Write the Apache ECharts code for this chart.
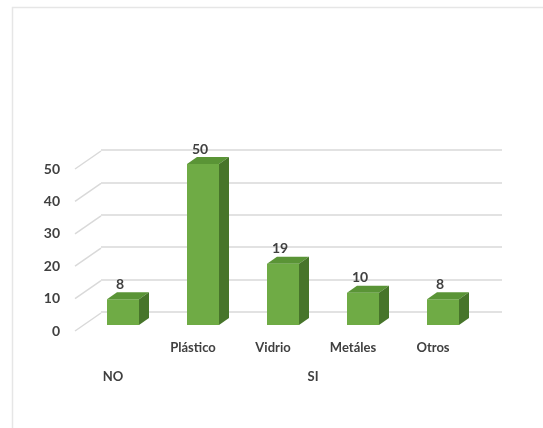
<!DOCTYPE html>
<html>
<head>
<meta charset="utf-8">
<script src="https://cdn.jsdelivr.net/npm/echarts@6/dist/echarts.min.js"></script>
<style>
html, body { margin: 0; padding: 0; background: #ffffff; }
#chart { width: 543px; height: 428px; }
</style>
</head>
<body>
<div id="chart"></div>
<script>
// Inner category labels (the single "NO" bar has no inner label)
const categories = ['', 'Plástico', 'Vidrio', 'Metáles', 'Otros'];
// Outer group labels and how many bars each group covers
const groupNames = ['NO', 'SI'];
const groupSpans = [1, 4];
// Bar values
const values = [8, 50, 19, 10, 8];
// Value axis ticks
const yTicks = [0, 10, 20, 30, 40, 50];

const FONT = 'Lato';
const TEXT = '#404040';
const GRID_LINE = '#d9d9d9';
const FRONT = '#6fab45';
const TOP = '#5a9436';
const SIDE = '#47752a';
const DEPTH_X = 10, DEPTH_Y = 7;     // bar extrusion
const FLOOR_X = 26, FLOOR_Y = 18;    // floor depth (front edge to back wall)

// Outer label axis: points at category boundaries, group names at group centres
const groupAxis = [];
for (let i = 0; i <= categories.length * 2; i++) groupAxis.push('');
let start = 0;
groupNames.forEach((name, g) => {
  groupAxis[start + groupSpans[g]] = name; // centre of span in half-category units
  start += groupSpans[g] * 2;
});

const chart = echarts.init(document.getElementById('chart'), null, { renderer: 'canvas' });

chart.setOption({
  backgroundColor: '#ffffff',
  animation: false,
  graphic: [{
    type: 'rect',
    left: 10, top: 5,
    shape: { width: 560, height: 460 },
    style: { fill: 'none', stroke: '#e6e6e6', lineWidth: 1.5 },
    silent: true
  }],
  grid: [
    // 0: bars (front faces)
    { left: 83, right: 60, top: 164, bottom: 103 },
    // 1: floor front edge with value labels
    { left: 75, right: 60, top: 169, bottom: 97 },
    // 2: back wall gridlines
    { left: 101, right: 41, top: 150, bottom: 116 },
    // 3: category label rows
    { left: 73, right: 70, top: 150, bottom: 90 }
  ],
  xAxis: [
    { gridIndex: 0, type: 'category', data: categories, show: false },
    { gridIndex: 1, type: 'value', min: 0, max: 1, show: false },
    { gridIndex: 2, type: 'value', min: 0, max: 1, show: false },
    {
      gridIndex: 3, type: 'category', data: categories, position: 'bottom',
      axisLine: { show: false }, axisTick: { show: false },
      axisLabel: { interval: 0, margin: 3, color: TEXT, fontFamily: FONT, fontSize: 13, fontWeight: 'bold' }
    },
    {
      gridIndex: 3, type: 'category', data: groupAxis, boundaryGap: false, position: 'bottom', offset: 29,
      axisLine: { show: false }, axisTick: { show: false },
      axisLabel: { interval: 0, margin: 3, color: TEXT, fontFamily: FONT, fontSize: 13, fontWeight: 'bold' }
    }
  ],
  yAxis: [
    { gridIndex: 0, type: 'value', min: 0, max: 50, show: false },
    {
      gridIndex: 1, type: 'value', min: 0, max: 50, interval: 10,
      axisLine: { show: false }, axisTick: { show: false }, splitLine: { show: false },
      axisLabel: { margin: 15, color: TEXT, fontFamily: FONT, fontSize: 14, fontWeight: 'bold' }
    },
    {
      gridIndex: 2, type: 'value', min: 0, max: 50, interval: 10,
      axisLine: { show: false }, axisTick: { show: false }, axisLabel: { show: false },
      splitLine: { show: true, lineStyle: { color: GRID_LINE, width: 1.5 } }
    },
    { gridIndex: 3, type: 'value', show: false }
  ],
  series: [
    {
      // diagonal floor lines joining the value labels to the back wall
      type: 'custom',
      xAxisIndex: 1, yAxisIndex: 1,
      data: yTicks.map(v => [0, v]),
      silent: true,
      z: 1,
      renderItem: function (params, api) {
        const p = api.coord([0, api.value(1)]);
        return {
          type: 'line',
          shape: { x1: p[0], y1: p[1], x2: p[0] + FLOOR_X, y2: p[1] - FLOOR_Y },
          style: { stroke: GRID_LINE, lineWidth: 1.5 }
        };
      }
    },
    {
      // extruded bars with value labels
      type: 'custom',
      xAxisIndex: 0, yAxisIndex: 0,
      data: values.map((v, i) => [i, v]),
      z: 5,
      renderItem: function (params, api) {
        const i = api.value(0), v = api.value(1);
        const top = api.coord([i, v]);
        const base = api.coord([i, 0]);
        const w = api.size([1, 0])[0] * 0.4;
        const l = top[0] - w / 2, r = top[0] + w / 2, t = top[1], b = base[1];
        return {
          type: 'group',
          children: [
            { type: 'rect', shape: { x: l, y: t, width: w, height: b - t }, style: { fill: FRONT } },
            { type: 'polygon', shape: { points: [[l, t], [l + DEPTH_X, t - DEPTH_Y], [r + DEPTH_X, t - DEPTH_Y], [r, t]] }, style: { fill: TOP } },
            { type: 'polygon', shape: { points: [[r, t], [r + DEPTH_X, t - DEPTH_Y], [r + DEPTH_X, b - DEPTH_Y], [r, b]] }, style: { fill: SIDE } },
            {
              type: 'text',
              style: {
                text: String(v), x: top[0] - 3, y: t - 15,
                align: 'center', verticalAlign: 'middle',
                fill: TEXT, font: 'bold 14px ' + FONT
              }
            }
          ]
        };
      }
    }
  ]
});
</script>
</body>
</html>
